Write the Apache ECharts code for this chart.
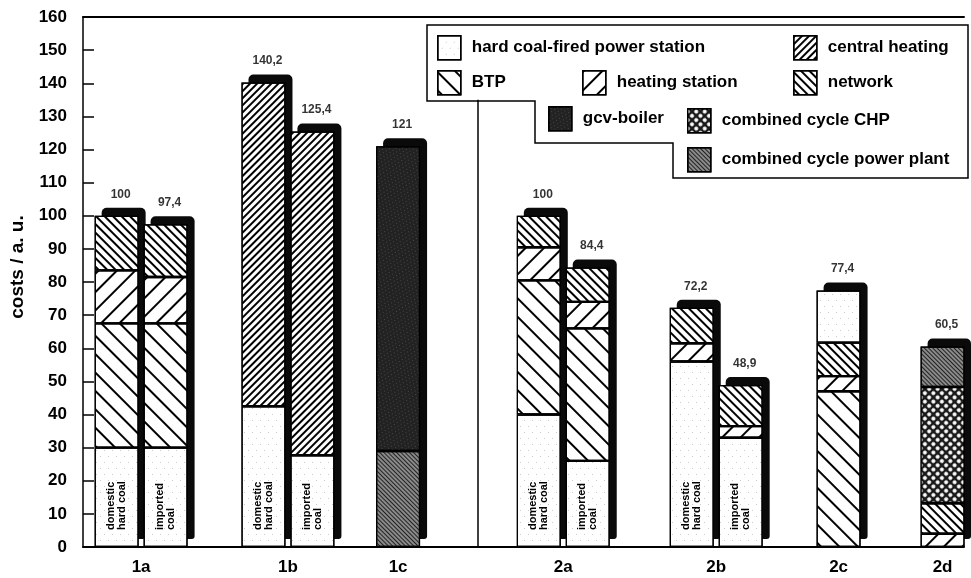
<!DOCTYPE html>
<html><head><meta charset="utf-8">
<script src="https://cdn.jsdelivr.net/npm/echarts@6.0.0/dist/echarts.min.js"></script>
<style>html,body{margin:0;padding:0;background:#fff}#c{width:971px;height:578px}</style>
</head><body><div id="c"></div>
<script>
// ---------------- data ----------------
const groups   = ['1a','1a','1b','1b','1c','2a','2a','2b','2b','2c','2d'];
const variants = ['domestic hard coal','imported coal','domestic hard coal','imported coal','',
                  'domestic hard coal','imported coal','domestic hard coal','imported coal','',''];
const totals   = [100, 97.4, 140.2, 125.4, 121, 100, 84.4, 72.2, 48.9, 77.4, 60.5];

const powerStation     = [30, 30, 42.5, 27.7, null, 40, 26, 56, 33, null, null];
const ccPowerPlantBase = [null, null, null, null, 29, null, null, null, null, null, null];
const btp              = [37.5, 37.5, null, null, null, 40.5, 40, null, null, 47, null];
const heatingStation   = [16, 14, null, null, null, 10, 8, 5.5, 3.5, 4.6, 4];
const network          = [16.5, 15.9, null, null, null, 9.5, 10.4, 10.7, 12.4, 10.1, 9.2];
const centralHeating   = [null, null, 97.7, 97.7, null, null, null, null, null, null, null];
const gcvBoiler        = [null, null, null, null, 92, null, null, null, null, null, null];
const ccChp            = [null, null, null, null, null, null, null, null, null, null, 35.1];
const powerStationTop  = [null, null, null, null, null, null, null, null, null, 15.7, null];
const ccPowerPlantTop  = [null, null, null, null, null, null, null, null, null, null, 12.2];

const yTickLabels = [0,10,20,30,40,50,60,70,80,90,100,110,120,130,140,150,160];

// ---------------- layout (not data) ----------------
const SLOTS = 144;
const barSlot = [5, 13, 29, 37, 51, 74, 82, 99, 107, 123, 140];
const dividerSlot = 64;
const dividerTop = 135;   // divider runs up to the legend frame
const FONT = "'Liberation Sans', Arial, sans-serif";
const GRID_W = 881, DEPTH_X = 7, DEPTH_Y = 8;

function toSlots(arr) {
  const out = new Array(SLOTS).fill('-');
  arr.forEach((v, i) => { if (v != null) out[barSlot[i]] = v; });
  return out;
}
const xCats = new Array(SLOTS).fill('');
[...new Set(groups)].forEach(g => {
  const s = barSlot.filter((_, i) => groups[i] === g);
  xCats[Math.round(s.reduce((a, b) => a + b, 0) / s.length)] = g;
});

function hatch(lw, gap, rot) {
  return { symbol: 'rect', symbolSize: 1, dashArrayX: [1, 0], dashArrayY: [lw, gap], rotation: rot, color: '#000' };
}
const styles = {
  'hard coal-fired power station': { color: '#fff',
      decal: { symbol: 'circle', symbolSize: 0.8, dashArrayX: [[1, 7], [0, 4, 1, 3]], dashArrayY: [1, 5], color: '#888' } },
  'BTP': { color: '#fff', decal: hatch(1.6, 11, Math.PI / 4) },
  'heating station': { color: '#fff', decal: hatch(1.6, 11, -Math.PI / 4) },
  'network': { color: '#fff', decal: hatch(1.8, 3.6, Math.PI / 4) },
  'central heating': { color: '#fff', decal: hatch(1.4, 3, -Math.PI / 4) },
  'gcv-boiler': { color: '#222',
      decal: { symbol: 'circle', symbolSize: 0.8, dashArrayX: [[1, 3], [0, 2, 1, 1]], dashArrayY: [1, 2], color: '#777', rotation: 0.4 } },
  'combined cycle CHP': { color: '#1a1a1a',
      decal: { symbol: 'circle', symbolSize: 1, dashArrayX: [4, 1.4], dashArrayY: [4, 1.4], color: '#fff', rotation: Math.PI / 4 } },
  'combined cycle power plant': { color: '#8a8a8a',
      decal: { symbol: 'rect', symbolSize: 1, dashArrayX: [1, 0], dashArrayY: [1, 1.6], rotation: Math.PI / 4, color: '#222' } }
};

function barSeries(name, arr, extra) {
  const st = styles[name];
  return Object.assign({
    type: 'bar', name: name, stack: 'total', barWidth: 44, z: 3,
    data: toSlots(arr),
    itemStyle: { color: st.color, decal: st.decal, borderColor: '#000', borderWidth: 1.2 },
    emphasis: { disabled: true }, animation: false
  }, extra || {});
}

const series = [
  // 3-D depth: the full bar, in black, on an identical grid shifted right/up
  { type: 'bar', name: 'depth', xAxisIndex: 1, yAxisIndex: 1, data: toSlots(totals), barWidth: 44, z: 1,
    silent: true, animation: false, itemStyle: { color: '#0a0a0a', borderRadius: [5, 5, 3, 0] } },
  barSeries('hard coal-fired power station', powerStation, {
    label: { show: true, position: 'insideBottom', rotate: 90, align: 'left', verticalAlign: 'middle',
             distance: 17, fontSize: 11, fontWeight: 'bold', lineHeight: 11, color: '#000', fontFamily: FONT,
             formatter: p => { const i = barSlot.indexOf(p.dataIndex); return i < 0 ? '' : variants[i].replace(' ', '\n'); } }
  }),
  barSeries('combined cycle power plant', ccPowerPlantBase),
  barSeries('BTP', btp),
  barSeries('heating station', heatingStation),
  barSeries('network', network),
  barSeries('central heating', centralHeating),
  barSeries('gcv-boiler', gcvBoiler),
  barSeries('combined cycle CHP', ccChp),
  barSeries('hard coal-fired power station', powerStationTop),
  barSeries('combined cycle power plant', ccPowerPlantTop),
  {
    type: 'scatter', name: 'totals', data: toSlots(totals), symbolSize: 1, silent: true, z: 5,
    itemStyle: { color: 'rgba(0,0,0,0)' }, animation: false,
    label: { show: true, position: 'top', distance: 15, offset: [4, 0], fontSize: 12, fontWeight: 'bold',
             color: '#000', fontFamily: FONT, formatter: p => String(p.value).replace('.', ',') },
    markLine: { silent: true, symbol: ['none', 'none'], label: { show: false }, animation: false,
                lineStyle: { color: '#000', width: 1.5, type: 'solid' },
                data: [[{ coord: [dividerSlot, 0] }, { coord: [dividerSlot, dividerTop] }]] }
  }
];

const legendPos = [
  ['hard coal-fired power station', 437, 35],
  ['central heating', 793, 35],
  ['BTP', 437, 70],
  ['heating station', 582, 70],
  ['network', 793, 70],
  ['gcv-boiler', 548, 106],
  ['combined cycle CHP', 687, 108],
  ['combined cycle power plant', 687, 147]
];
const legends = legendPos.map(([n, x, y]) => ({
  data: [n], left: x - 5, top: y - 5, selectedMode: false, icon: 'rect',
  itemWidth: 23, itemHeight: 24, z: 6,
  itemStyle: { borderColor: '#000', borderWidth: 1.5 },
  textStyle: { fontSize: 17, fontWeight: 'bold', color: '#000', fontFamily: FONT, padding: [0, 0, 0, 6] }
}));

const yBase = {
  type: 'value', min: yTickLabels[0], max: yTickLabels[yTickLabels.length - 1],
  interval: yTickLabels[1] - yTickLabels[0]
};

const chart = echarts.init(document.getElementById('c'));
chart.setOption({
  animation: false,
  backgroundColor: '#fff',
  textStyle: { fontFamily: FONT },
  grid: [
    { left: 83, top: 17, width: GRID_W, bottom: 31 },
    { left: 83 + DEPTH_X, top: 17 - DEPTH_Y, width: GRID_W, bottom: 31 + DEPTH_Y }
  ],
  xAxis: [
    { type: 'category', data: xCats, boundaryGap: true, gridIndex: 0, z: 4,
      axisLine: { lineStyle: { color: '#000', width: 2 } }, axisTick: { show: false },
      axisLabel: { interval: 0, fontSize: 17, fontWeight: 'bold', color: '#000', margin: 12, fontFamily: FONT } },
    { type: 'category', data: xCats, gridIndex: 1, show: false },
    { type: 'category', data: xCats, gridIndex: 0, position: 'top',
      axisLine: { lineStyle: { color: '#000', width: 2 } }, axisTick: { show: false }, axisLabel: { show: false } }
  ],
  yAxis: [
    Object.assign({}, yBase, {
      gridIndex: 0, z: 4,
      name: 'costs / a. u.', nameLocation: 'middle', nameGap: 53,
      nameTextStyle: { fontSize: 19, fontWeight: 'bold', color: '#000', fontFamily: FONT, padding: [0, 0, 0, 30] },
      axisLine: { show: true, lineStyle: { color: '#000', width: 1.5 } },
      axisTick: { show: true, inside: true, length: 11, lineStyle: { color: '#000', width: 1.5 } },
      axisLabel: { fontSize: 17, fontWeight: 'bold', color: '#000', margin: 16, fontFamily: FONT },
      splitLine: { show: false }
    }),
    Object.assign({}, yBase, { gridIndex: 1, show: false, splitLine: { show: false } })
  ],
  legend: legends,
  graphic: [{
    type: 'polygon', z: 5, silent: true,
    shape: { points: [[427, 25], [968, 25], [968, 178], [673, 178], [673, 143], [535, 143], [535, 101], [427, 101]] },
    style: { fill: '#fff', stroke: '#000', lineWidth: 1.5 }
  }],
  series: series
});
</script>
</body></html>
